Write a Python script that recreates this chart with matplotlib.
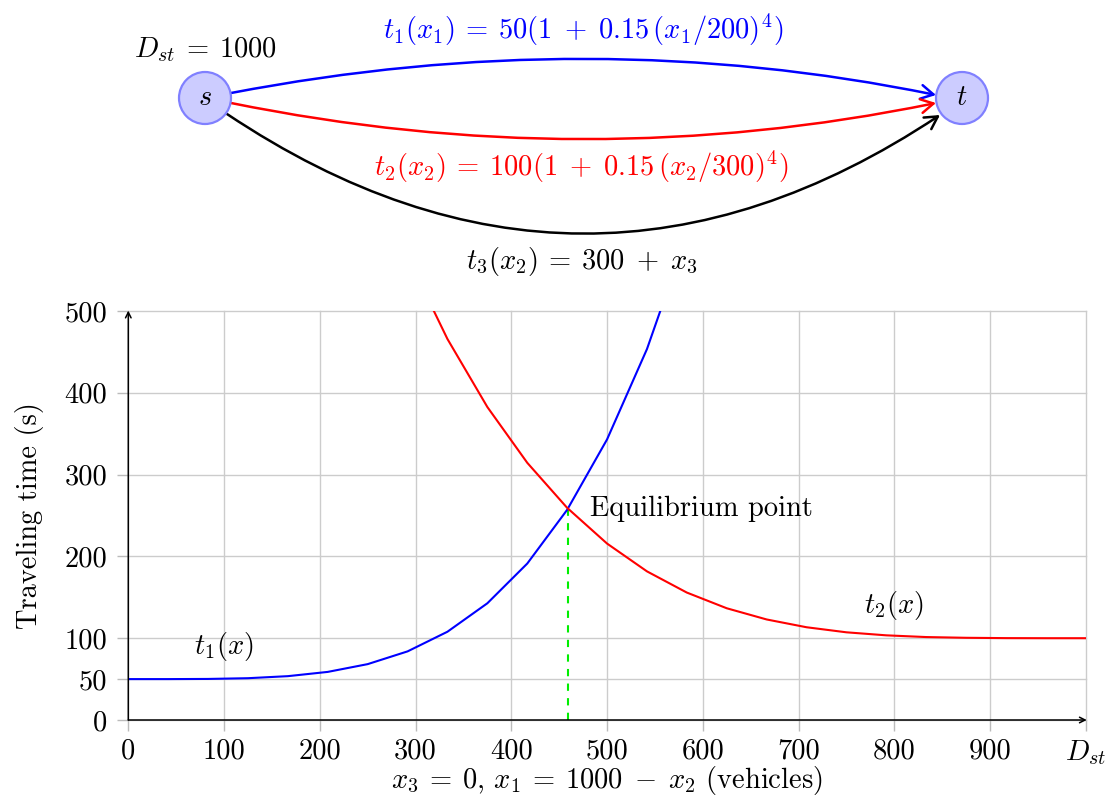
import matplotlib
matplotlib.use("Agg")
import matplotlib.pyplot as plt
from matplotlib.patches import Circle, FancyArrowPatch
from matplotlib.path import Path

plt.rcParams['font.family'] = 'serif'
plt.rcParams['font.serif'] = ['cmr10']
plt.rcParams['mathtext.fontset'] = 'cm'
plt.rcParams['axes.formatter.use_mathtext'] = True
plt.rcParams['axes.unicode_minus'] = False

# ---------------- data ----------------
flow_x = [0, 41.7, 83.3, 125, 166.7, 208.3, 250, 291.7, 333.3, 375, 416.7, 458.3,
          500, 541.7, 583.3, 625, 666.7, 708.3, 750, 791.7, 833.3, 875, 916.7, 958.3, 1000]
time_t1 = [50.0, 50.0, 50.2, 51.1, 53.6, 58.8, 68.3, 83.9, 107.9, 142.7, 191.3, 256.9,
           343.0, 453.5, 592.8, 765.3, 975.9, 1230.0, 1533.2, 1891.3, 2310.6, 2797.7,
           3359.7, 4003.8, 4737.5]
time_t2 = [1951.9, 1662.0, 1407.5, 1185.5, 993.1, 827.4, 685.9, 566.2, 465.8, 382.6,
           314.4, 259.4, 215.7, 181.7, 155.8, 136.6, 122.9, 113.4, 107.2, 103.5, 101.4,
           100.5, 100.1, 100.0, 100.0]
equilibrium_x = 459
equilibrium_t = 258
x_ticks = [0, 100, 200, 300, 400, 500, 600, 700, 800, 900, 1000]
x_tick_labels = ['0', '100', '200', '300', '400', '500', '600', '700', '800', '900', r'$D_{st}$']
y_ticks = [0, 50, 100, 200, 300, 400, 500]
y_tick_labels = ['0', '50', '100', '200', '300', '400', '500']

FS = 20.5
W, H = 1110, 801
fig = plt.figure(figsize=(W / 100, H / 100), dpi=100)

# ---------------- network diagram (pixel coordinates) ----------------
ax0 = fig.add_axes([0, 0, 1, 1])
ax0.set_xlim(0, W)
ax0.set_ylim(H, 0)
ax0.axis('off')

node_fill = '#ccccff'
node_edge = '#8080ff'
s_c = Circle((205, 98), 26, facecolor=node_fill, edgecolor=node_edge, lw=1.6, zorder=3)
t_c = Circle((962, 98), 26, facecolor=node_fill, edgecolor=node_edge, lw=1.6, zorder=3)
ax0.add_patch(s_c)
ax0.add_patch(t_c)
ax0.text(205, 98, r'$s$', fontsize=FS, ha='center', va='center', zorder=4)
ax0.text(962, 98, r'$t$', fontsize=FS, ha='center', va='center', zorder=4)

def edge(p0, c, p1, color):
    path = Path([p0, c, p1], [Path.MOVETO, Path.CURVE3, Path.CURVE3])
    a = FancyArrowPatch(path=path,
                        arrowstyle='->,head_length=0.45,head_width=0.25',
                        mutation_scale=20, color=color, lw=1.8, zorder=2)
    ax0.add_patch(a)

edge((231, 93), (590, 24), (936, 95), '#0000ff')
edge((231, 103), (585, 175), (936, 103), '#ff0000')
edge((227, 114), (583, 352), (940, 115), 'black')

ax0.text(205, 50, r'$D_{st}\:=\:1000$', fontsize=FS, ha='center', va='center')
ax0.text(583, 30, r'$t_1(x_1)\:=\:50(1\;+\;0.15\,(x_1/200)^4)$', fontsize=FS,
         ha='center', va='center', color='#0000ff')
ax0.text(581, 167, r'$t_2(x_2)\:=\:100(1\;+\;0.15\,(x_2/300)^4)$', fontsize=FS,
         ha='center', va='center', color='#ff0000')
ax0.text(582, 262, r'$t_3(x_2)\:=\:300\;+\;x_3$', fontsize=FS, ha='center', va='center')

# ---------------- plot ----------------
L, R, B, T = 128.3, 1085.8, 720, 311
ax = fig.add_axes([L / W, 1 - B / H, (R - L) / W, (B - T) / H])
ax.patch.set_alpha(0)
ax.set_xlim(0, 1000)
ax.set_ylim(0, 500)

for xv in x_ticks:
    ax.axvline(xv, color='#cccccc', lw=1.0, zorder=0, clip_on=False)
for yv in y_ticks:
    ax.axhline(yv, color='#cccccc', lw=1.0, zorder=0, clip_on=False)

ax.plot(flow_x, time_t1, color='#0000ff', lw=1.5, zorder=3)
ax.plot(flow_x, time_t2, color='#ff0000', lw=1.5, zorder=3)
ax.plot([equilibrium_x, equilibrium_x], [0, equilibrium_t], color='#00ee00',
        lw=1.5, ls=(0, (3.5, 3.5)), zorder=2)

ax.text(482, equilibrium_t, 'Equilibrium point', fontsize=FS, ha='left', va='center')
ax.text(100, 90, r'$t_1(x)$', fontsize=FS, ha='center', va='center')
ax.text(800, 140, r'$t_2(x)$', fontsize=FS, ha='center', va='center')

for sp in ax.spines.values():
    sp.set_visible(False)
ax.annotate('', xy=(1.001, 0), xytext=(0, 0), xycoords='axes fraction',
            arrowprops=dict(arrowstyle='->,head_length=0.4,head_width=0.2',
                            color='black', lw=1.1, shrinkA=0, shrinkB=0), zorder=5)
ax.annotate('', xy=(0, 1.001), xytext=(0, 0), xycoords='axes fraction',
            arrowprops=dict(arrowstyle='->,head_length=0.4,head_width=0.2',
                            color='black', lw=1.1, shrinkA=0, shrinkB=0), zorder=5)

ax.set_xticks(x_ticks)
ax.set_xticklabels(x_tick_labels)
ax.set_yticks(y_ticks)
ax.set_yticklabels(y_tick_labels)
ax.tick_params(axis='both', direction='out', length=8, width=1.0, color='#bbbbbb',
               labelsize=FS)
ax.tick_params(axis='x', pad=5)
ax.tick_params(axis='y', pad=7)

ax.set_xlabel(r'$x_3\:=\:0$, $x_1\:=\:1000\;-\;x_2$ (vehicles)', fontsize=FS, labelpad=-2)
ax.set_ylabel('Traveling time (s)', fontsize=FS, labelpad=15)

fig.savefig('out.png', dpi=100)
